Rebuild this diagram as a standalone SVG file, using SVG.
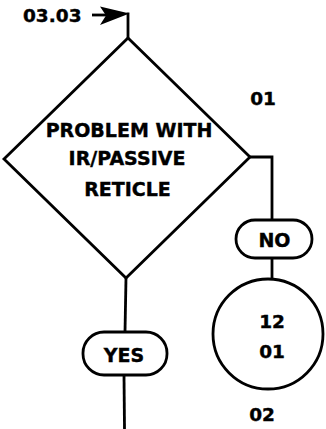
<svg xmlns="http://www.w3.org/2000/svg" width="326" height="429" viewBox="0 0 326 429">
<style>
.ln{fill:none;stroke:#000;stroke-width:2.8;stroke-linejoin:miter}
.sh{fill:#fff;stroke:#000;stroke-width:2.8}
.t{font-family:"DejaVu Sans",sans-serif;font-weight:bold;font-size:19px;fill:#000;stroke:#000;stroke-width:0.4;text-anchor:middle}
.n{font-size:18.5px}
</style>
<rect width="326" height="429" fill="#fff"/>
<g id="connectors">
<line class="ln" x1="92" y1="15" x2="110" y2="15"/>
<polygon points="129.5,13.5 100,6.5 106,15.5 100,25" fill="#000"/>
<polyline class="ln" points="128,12.5 128,38"/>
<polyline class="ln" points="250,157 272,157 272,220"/>
<line class="ln" x1="272" y1="258" x2="272" y2="279"/>
<line class="ln" x1="126" y1="278" x2="125" y2="332"/>
<line class="ln" x1="124" y1="375" x2="124.5" y2="429"/>
</g>
<g id="entry">
<text class="t n" x="23" y="22" style="text-anchor:start">03.03</text>
</g>
<g id="decision">
<polygon class="sh" points="128,38 250,157 126,278 4,159"/>
<text class="t" x="129" y="137">PROBLEM WITH</text>
<text class="t" x="127" y="165">IR/PASSIVE</text>
<text class="t" x="127.5" y="196">RETICLE</text>
</g>
<g id="label01">
<text class="t n" x="263" y="105">01</text>
</g>
<g id="no">
<rect class="sh" x="236" y="220" width="76" height="38" rx="19"/>
<text class="t" x="274.5" y="246.5">NO</text>
</g>
<g id="connector1201">
<circle class="sh" cx="268" cy="334" r="55"/>
<text class="t n" x="272" y="328">12</text>
<text class="t n" x="272" y="358">01</text>
</g>
<g id="yes">
<rect class="sh" x="83" y="332" width="84" height="43" rx="21"/>
<text class="t" x="124" y="361.5">YES</text>
</g>
<g id="label02">
<text class="t n" x="262" y="421">02</text>
</g>
</svg>
